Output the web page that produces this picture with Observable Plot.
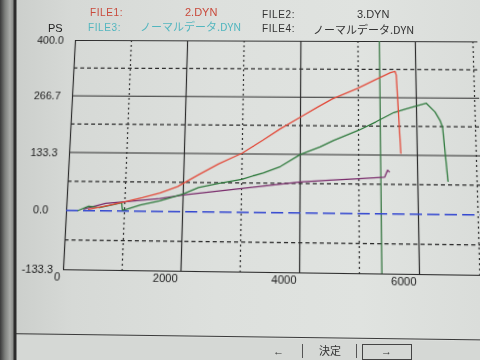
<!DOCTYPE html>
<html>
<head>
<meta charset="utf-8">
<script src="https://cdn.jsdelivr.net/npm/d3@7"></script>
<script src="https://cdn.jsdelivr.net/npm/@observablehq/plot@0.6"></script>
<style>
html,body{margin:0;padding:0;}
body{width:480px;height:360px;overflow:hidden;background:#dcdfdc;font-family:"Liberation Sans",Arial,sans-serif;}
#wrap{position:relative;width:480px;height:360px;overflow:hidden;
  background:linear-gradient(90deg,#c9ccc9 0%,#d6d9d6 15%,#dde0dd 45%,#e0e3e0 75%,#dadddA 100%);}
#chart{position:absolute;left:0;top:0;}
.t{position:absolute;white-space:nowrap;font-size:11px;line-height:11px;}
.jp{font-family:"Noto Sans CJK JP","Liberation Sans",sans-serif;}
#leftedge{position:absolute;left:0;top:0;width:17px;height:360px;
  background:linear-gradient(90deg,#3a3a3a 0px,#7d7f7c 5px,#a9aba8 10px,#8c8e8b 13px,#2c2c2c 14px,#2c2c2c 16px,rgba(0,0,0,0) 17px);}
#bottomline{position:absolute;left:0;top:333px;width:490px;height:0;border-top:1.5px solid #3a3a3a;transform-origin:0 0;transform:rotate(0.75deg);}
#bottombar{position:absolute;left:0;top:335px;width:490px;height:40px;background:#d5d8d5;transform-origin:0 0;transform:rotate(0.75deg);}
.btn{position:absolute;font-size:11px;line-height:12px;color:#333;}
.sep{position:absolute;width:1px;height:14px;background:#555;}
</style>
</head>
<body>
<div id="wrap">
  <div id="chart"></div>
  <div id="bottombar"></div>
  <div id="bottomline"></div>
  <div class="btn" style="left:273px;top:345px;">←</div>
  <div class="sep" style="left:302px;top:344px;"></div>
  <div class="btn jp" style="left:319px;top:344px;">決定</div>
  <div class="sep" style="left:356px;top:344px;"></div>
  <div style="position:absolute;left:362px;top:344px;width:48px;height:14px;border:1px solid #444;"></div>
  <div class="btn" style="left:381px;top:345px;">→</div>
  <div id="leftedge"></div>
  <div class="t" style="left:90px;top:7px;color:#c9493b;font-size:10px;letter-spacing:0.6px;">FILE1:</div>
  <div class="t" style="left:185px;top:7px;color:#c9493b;">2.DYN</div>
  <div class="t" style="left:262px;top:9px;color:#333;font-size:10px;letter-spacing:0.6px;">FILE2:</div>
  <div class="t" style="left:357px;top:9px;color:#333;">3.DYN</div>
  <div class="t" style="left:88px;top:22px;color:#52b6bf;font-size:10px;letter-spacing:0.6px;">FILE3:</div>
  <div class="t jp" style="left:140px;top:21px;color:#52b6bf;">ノーマルデータ.DYN</div>
  <div class="t" style="left:262px;top:23px;color:#333;font-size:10px;letter-spacing:0.6px;">FILE4:</div>
  <div class="t jp" style="left:313px;top:24px;color:#333;">ノーマルデータ.DYN</div>
  <div class="t" style="left:48px;top:23px;color:#222;">PS</div>
</div>
<script>
// grid & tick values
const xTicks = [0, 2000, 4000, 6000];
const xSolid = [0, 2000, 4000, 6000, 8000];
const xDashed = [1000, 3000, 5000, 7000];
const yTicks = [-133.3, 0, 133.3, 266.7, 400];
const ySolid = [-133.3, 133.3, 266.7, 400];
const yDashed = [-66.7, 66.7, 200, 333.3];
const cursorRpm = [5375];
const zeroLine = [0];

// FILE1 2.DYN (red)
const rpm1 = [380, 700, 1000, 1300, 1600, 1900, 2250, 2600, 3000, 3350, 3650, 4000, 4300, 4550, 5000, 5300, 5560, 5640, 5660, 5720];
const ps1  = [3, 12, 21, 31, 42, 57, 84, 110, 135, 165, 192, 220, 244, 263, 289, 309, 326, 329, 320, 138];
// FILE2 3.DYN (green)
const rpm2 = [200, 380, 570, 800, 946, 963, 1030, 1270, 1600, 2000, 2260, 2600, 3000, 3365, 3660, 4000, 4340, 4570, 5000, 5300, 5610, 5800, 5960, 6170, 6316, 6400, 6440, 6510];
const ps2  = [0, 10, 7, 14, 19, 2, 4, 14, 24, 40, 55, 65, 75, 90, 105, 133, 151, 166, 190, 210, 232, 240, 246, 254, 234, 214, 198, 75];
// FILE4 (purple)
const rpm4 = [300, 670, 1000, 1600, 2000, 2500, 3000, 3500, 4000, 4500, 5000, 5440, 5490, 5520];
const ps4  = [4, 17, 21, 29, 38, 46, 54, 62, 70, 75, 79, 83, 99, 95];

const toRows = (xs, ys) => xs.map((x, i) => ({x, y: ys[i]}));
const grid = "#2b2b2b";

const chart = Plot.plot({
  width: 480,
  height: 360,
  marginLeft: 69,
  marginRight: 0,
  marginTop: 40,
  marginBottom: 89,
  x: {domain: [0, 8000], range: [69, 533]},
  y: {domain: [-133.3, 400]},
  style: {background: "transparent", fontFamily: "'Liberation Sans', Arial, sans-serif", fontSize: "11px", color: "#222", overflow: "visible"},
  marks: [
    Plot.ruleX(xDashed, {stroke: grid, strokeWidth: 1.2, strokeDasharray: "2,3"}),
    Plot.ruleY(yDashed, {stroke: grid, strokeWidth: 1.1, strokeDasharray: "4,3"}),
    Plot.ruleX(xSolid, {stroke: grid, strokeWidth: 1.2}),
    Plot.ruleY(ySolid, {stroke: grid, strokeWidth: 1.2}),
    Plot.ruleX(cursorRpm, {stroke: "#3b7a46", strokeWidth: 1.3}),
    Plot.ruleY(zeroLine, {stroke: "#3448d0", strokeWidth: 1.3, strokeDasharray: "12,5"}),
    Plot.line(toRows(rpm4, ps4), {x: "x", y: "y", stroke: "#7a2d6c", strokeWidth: 1.3}),
    Plot.line(toRows(rpm2, ps2), {x: "x", y: "y", stroke: "#2f7a3d", strokeWidth: 1.3}),
    Plot.line(toRows(rpm1, ps1), {x: "x", y: "y", stroke: "#e24b3b", strokeWidth: 1.3}),
    Plot.axisX(xTicks, {tickSize: 0, tickPadding: 3, textAnchor: "end", dx: -3, fontSize: 11, label: null, tickFormat: d => String(d)}),
    Plot.axisY(yTicks, {tickSize: 0, tickPadding: 26, textAnchor: "middle", fontSize: 11, label: null, tickFormat: d => d.toFixed(1)})
  ]
});
document.getElementById("chart").appendChild(chart);

// Mimic the photo's camera perspective: map the plot frame onto the photographed quadrilateral.
const sx = chart.scales ? null : null;
const xs = chart.scale("x"), ys = chart.scale("y");
const src = [
  [xs.apply(0), ys.apply(400)], [xs.apply(6000), ys.apply(400)],
  [xs.apply(0), ys.apply(-133.3)], [xs.apply(6000), ys.apply(-133.3)]
];
const dst = [[75, 40], [414.8, 41.2], [63, 269.2], [419, 274]];
function homography(src, dst) {
  const A = [], B = [];
  for (let i = 0; i < 4; i++) {
    const [u, v] = src[i], [X, Y] = dst[i];
    A.push([u, v, 1, 0, 0, 0, -u * X, -v * X]); B.push(X);
    A.push([0, 0, 0, u, v, 1, -u * Y, -v * Y]); B.push(Y);
  }
  const n = 8;
  for (let c = 0; c < n; c++) {
    let p = c;
    for (let r = c + 1; r < n; r++) if (Math.abs(A[r][c]) > Math.abs(A[p][c])) p = r;
    [A[c], A[p]] = [A[p], A[c]]; [B[c], B[p]] = [B[p], B[c]];
    for (let r = 0; r < n; r++) {
      if (r === c) continue;
      const f = A[r][c] / A[c][c];
      for (let k = c; k < n; k++) A[r][k] -= f * A[c][k];
      B[r] -= f * B[c];
    }
  }
  return B.map((b, i) => b / A[i][i]);
}
const [a, b, c, d, e, f, g, h] = homography(src, dst);
chart.style.transformOrigin = "0 0";
chart.style.transform = `matrix3d(${a},${d},0,${g},${b},${e},0,${h},0,0,1,0,${c},${f},0,1)`;
</script>
</body>
</html>
